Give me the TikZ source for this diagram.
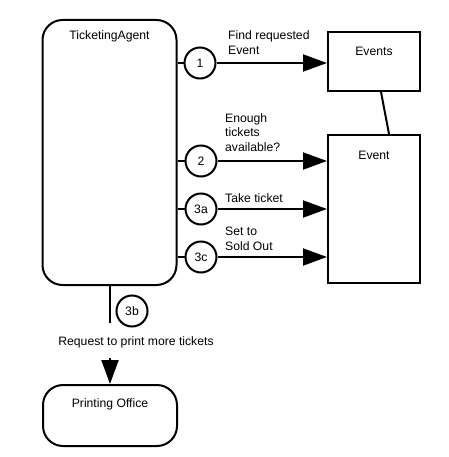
\documentclass[tikz,border=0pt]{standalone}
\usepackage{fontspec}
\setmainfont{Liberation Sans}
\usetikzlibrary{arrows.meta}
\tikzset{
  x=1pt, y=-1pt,
  every node/.style={font=\fontsize{12.2}{14.8}\selectfont, inner sep=0pt},
  obj/.style={draw, line width=2pt, rounded corners=20pt},
  cls/.style={draw, line width=2pt},
  num/.style={draw, circle, line width=2pt, minimum size=31pt, fill=white},
  lbl/.style={anchor=west, align=left},
  conn/.style={line width=2pt},
  msg/.style={line width=2pt, -{Triangle[length=24pt, width=17pt]}},
}
\begin{document}
\begin{tikzpicture}
\useasboundingbox (0,0) rectangle (448,457);
% boxes
\node[obj, minimum width=134pt, minimum height=265pt] (agent) at (109.5,152.5) {};
\node (agentlbl) at ([yshift=-17pt]agent.north) {TicketingAgent};
\node[cls, minimum width=92pt, minimum height=59pt] (events) at (374,61.5) {};
\node (eventslbl) at ([yshift=-20pt]events.north) {Events};
\node[cls, minimum width=92pt, minimum height=148pt] (event) at (374,209) {};
\node (eventlbl) at ([yshift=-21pt]event.north) {Event};
\node[obj, minimum width=134pt, minimum height=61pt] (office) at (110,415.5) {};
\node (officelbl) at ([yshift=-20pt]office.north) {Printing Office};
% association
\draw[conn] ([xshift=7pt]events.south) -- ([xshift=15pt]event.north);
% numbered messages
\node[num] (c1) at (200,63) {1};
\node[num] (c2) at (201,161) {2};
\node[num] (c3a) at (201,209) {3a};
\node[num] (c3c) at (201,257) {3c};
\node[num] (c3b) at (132,311) {3b};
\draw[conn] (c1.west -| agent.east) -- (c1.west);
\draw[conn] (c2.west -| agent.east) -- (c2.west);
\draw[conn] (c3a.west -| agent.east) -- (c3a.west);
\draw[conn] (c3c.west -| agent.east) -- (c3c.west);
\draw[msg] (c1.east) -- (c1.east -| events.west);
\draw[msg] (c2.east) -- (c2.east -| event.west);
\draw[msg] (c3a.east) -- (c3a.east -| event.west);
\draw[msg] (c3c.east) -- (c3c.east -| event.west);
% labels
\node[lbl] (t1) at (228,42.5) {Find requested\\Event};
\node[lbl] (t2) at (225,132.5) {Enough\\tickets\\available?};
\node[lbl] (t3a) at (225,198) {Take ticket};
\node[lbl] (t3c) at (225,238.5) {Set to\\Sold Out};
\node (t3b) at (136,342) {Request to print more tickets};
% downward message
\coordinate (b1) at (agent.south |- 0,323);
\coordinate (b2) at (office.north |- 0,358);
\draw[conn] (agent.south) -- (b1);
\draw[msg] (b2) -- (office.north);
\end{tikzpicture}
\end{document}
